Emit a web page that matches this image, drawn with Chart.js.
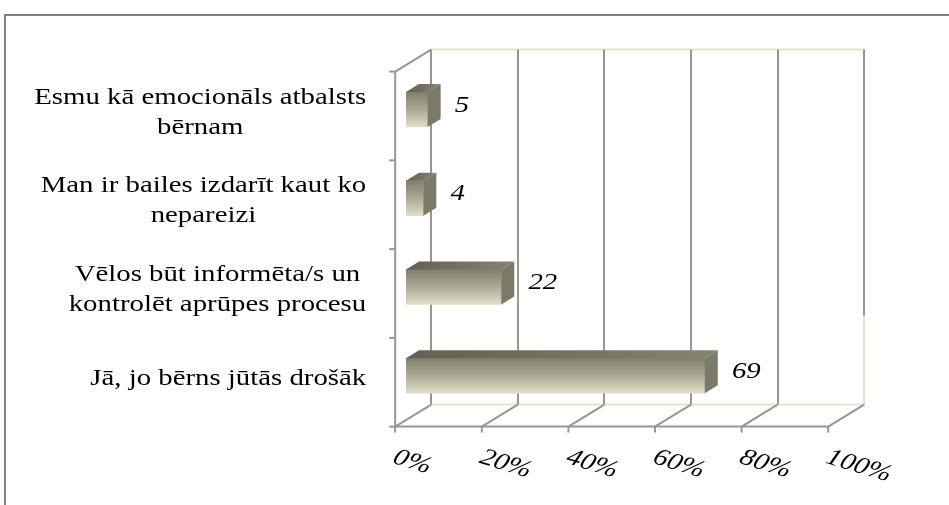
<!DOCTYPE html>
<html>
<head>
<meta charset="utf-8">
<script src="https://cdn.jsdelivr.net/npm/chart.js@4.4.1/dist/chart.umd.min.js"></script>
<style>
  body { margin: 0; background: #fff; }
</style>
</head>
<body>
<canvas id="myChart" width="949" height="505"></canvas>
<script>
const categories = [
  ['Esmu kā emocionāls atbalsts', 'bērnam'],
  ['Man ir bailes izdarīt kaut ko', 'nepareizi'],
  ['Vēlos būt informēta/s un', 'kontrolēt aprūpes procesu'],
  ['Jā, jo bērns jūtās drošāk']
];
const values = [5, 4, 22, 69];
const tickValues = [0, 20, 40, 60, 80, 100];
const tickLabels = ['0%', '20%', '40%', '60%', '80%', '100%'];

// 3d box: total depth of the plot, where the bars sit in it, bar depth
const DEPTH = { x: 36, y: -22 };
const BAR_Z = 0.3;
const BAR_D = { x: 13, y: -8 };
const STRETCH = 1.2; // text in the picture is drawn a bit wide
const GRAY = '#969696';
const CREAM = '#e6e2cc';

function line(ctx, x1, y1, x2, y2, color) {
  ctx.strokeStyle = color;
  ctx.beginPath();
  ctx.moveTo(x1, y1);
  ctx.lineTo(x2, y2);
  ctx.stroke();
}

function wideText(ctx, str, x, y, align, angle) {
  ctx.save();
  ctx.translate(x, y);
  ctx.scale(STRETCH, 1);
  if (angle) ctx.rotate(angle);
  ctx.textAlign = align;
  ctx.fillText(str, 0, 0);
  ctx.restore();
}

const box3d = {
  id: 'box3d',
  beforeDraw(chart) {
    let ctx = chart.ctx;
    ctx.save();
    ctx.lineWidth = 2;
    ctx.strokeStyle = '#808080';
    ctx.beginPath();
    ctx.moveTo(5, 505);
    ctx.lineTo(5, 15);
    ctx.lineTo(949, 15);
    ctx.stroke();
    ctx.restore();
  },
  beforeDatasetsDraw(chart) {
    let ctx = chart.ctx;
    let ca = chart.chartArea;
    let xs = chart.scales.x;
    let fx = -DEPTH.x * BAR_Z, fy = -DEPTH.y * BAR_Z;
    let L = ca.left + fx, T = ca.top + fy, B = ca.bottom + fy;
    let R = ca.right + fx;
    let band = (B - T) / categories.length;
    ctx.save();
    ctx.lineWidth = 2;
    // back wall
    line(ctx, L + DEPTH.x, T + DEPTH.y, R + DEPTH.x, T + DEPTH.y, CREAM);
    line(ctx, L + DEPTH.x, B + DEPTH.y, R + DEPTH.x, B + DEPTH.y, CREAM);
    tickValues.forEach(v => {
      let x = Math.round(xs.getPixelForValue(v) + fx + DEPTH.x);
      line(ctx, x, T + DEPTH.y, x, B + DEPTH.y, GRAY);
    });
    // the right edge turns cream along the lowest band
    let xr = Math.round(R + DEPTH.x);
    line(ctx, xr, B + DEPTH.y - band, xr, B + DEPTH.y, CREAM);
    // floor
    tickValues.forEach(v => {
      let x = xs.getPixelForValue(v) + fx;
      line(ctx, x, B, x + DEPTH.x, B + DEPTH.y, GRAY);
      line(ctx, x, B, x, B + 6, GRAY);
    });
    line(ctx, L, B, R, B, GRAY);
    // left wall
    line(ctx, L, T, L, B, GRAY);
    line(ctx, L, T, L + DEPTH.x, T + DEPTH.y, GRAY);
    for (let k = 0; k <= categories.length; k++) {
      let y = T + band * k;
      line(ctx, L - 6, y, L, y, GRAY);
    }
    // category labels
    ctx.fillStyle = '#000';
    ctx.font = '24px "Liberation Serif", "Times New Roman", serif';
    ctx.textBaseline = 'middle';
    let ys = chart.scales.y;
    categories.forEach((lines, i) => {
      let cy = ys.getPixelForValue(i) + 3;
      let maxW = Math.max(...lines.map(s => ctx.measureText(s).width)) * STRETCH;
      let cx = L - 29 - maxW / 2;
      lines.forEach((s, j) => {
        wideText(ctx, s, cx, cy + (j - (lines.length - 1) / 2) * 30, 'center');
      });
    });
    // value axis labels
    ctx.font = 'italic 24px "Liberation Serif", "Times New Roman", serif';
    tickValues.forEach((v, i) => {
      let x = xs.getPixelForValue(v) + fx;
      wideText(ctx, tickLabels[i], x - 1, B + 30, 'left', 20 * Math.PI / 180);
    });
    ctx.restore();
  },
  afterDatasetsDraw(chart) {
    let ctx = chart.ctx;
    let xs = chart.scales.x;
    ctx.save();
    chart.getDatasetMeta(0).data.forEach((bar, i) => {
      let p = bar.getProps(['x', 'y', 'base', 'height'], true);
      let top = p.y - p.height / 2, bot = p.y + p.height / 2;
      let g = ctx.createLinearGradient(p.base, 0, p.x + BAR_D.x, 0);
      g.addColorStop(0, '#626151');
      g.addColorStop(1, '#858472');
      ctx.fillStyle = g;
      ctx.beginPath();
      ctx.moveTo(p.base, top);
      ctx.lineTo(p.x, top);
      ctx.lineTo(p.x + BAR_D.x, top + BAR_D.y);
      ctx.lineTo(p.base + BAR_D.x, top + BAR_D.y);
      ctx.closePath();
      ctx.fill();
      ctx.fillStyle = '#7b7a68';
      ctx.beginPath();
      ctx.moveTo(p.x, top);
      ctx.lineTo(p.x + BAR_D.x, top + BAR_D.y);
      ctx.lineTo(p.x + BAR_D.x, bot + BAR_D.y);
      ctx.lineTo(p.x, bot);
      ctx.closePath();
      ctx.fill();
      // value label sits just past the bar end, projected on the back wall
      ctx.fillStyle = '#000';
      ctx.font = 'italic 24px "Liberation Serif", "Times New Roman", serif';
      ctx.textBaseline = 'middle';
      let lx = xs.getPixelForValue(values[i]) + DEPTH.x * (1 - BAR_Z) + 2;
      wideText(ctx, String(values[i]), lx, p.y - 4, 'left');
    });
    ctx.restore();
  }
};

let ctx = document.getElementById('myChart').getContext('2d');
let myChart = new Chart(ctx, {
  type: 'bar',
  data: {
    labels: categories,
    datasets: [{
      data: values,
      borderWidth: 0,
      barThickness: 35,
      backgroundColor: function(c) {
        let chart = c.chart;
        if (!chart.chartArea || c.dataIndex === undefined) return '#b5b39f';
        let cy = chart.scales.y.getPixelForValue(c.dataIndex);
        let x0 = chart.scales.x.getPixelForValue(0);
        let g = chart.ctx.createLinearGradient(x0, cy - 18, x0, cy + 18);
        g.addColorStop(0, '#7f7e6b');
        g.addColorStop(0.5, '#aba994');
        g.addColorStop(1, '#e2dfc8');
        return g;
      }
    }]
  },
  options: {
    indexAxis: 'y',
    responsive: false,
    animation: false,
    layout: { padding: { left: 406, right: 110, top: 65, bottom: 85 } },
    scales: {
      x: { display: false, min: 0, max: 100 },
      y: { display: false }
    },
    plugins: {
      legend: { display: false },
      tooltip: { enabled: false }
    }
  },
  plugins: [box3d]
});
</script>
</body>
</html>
